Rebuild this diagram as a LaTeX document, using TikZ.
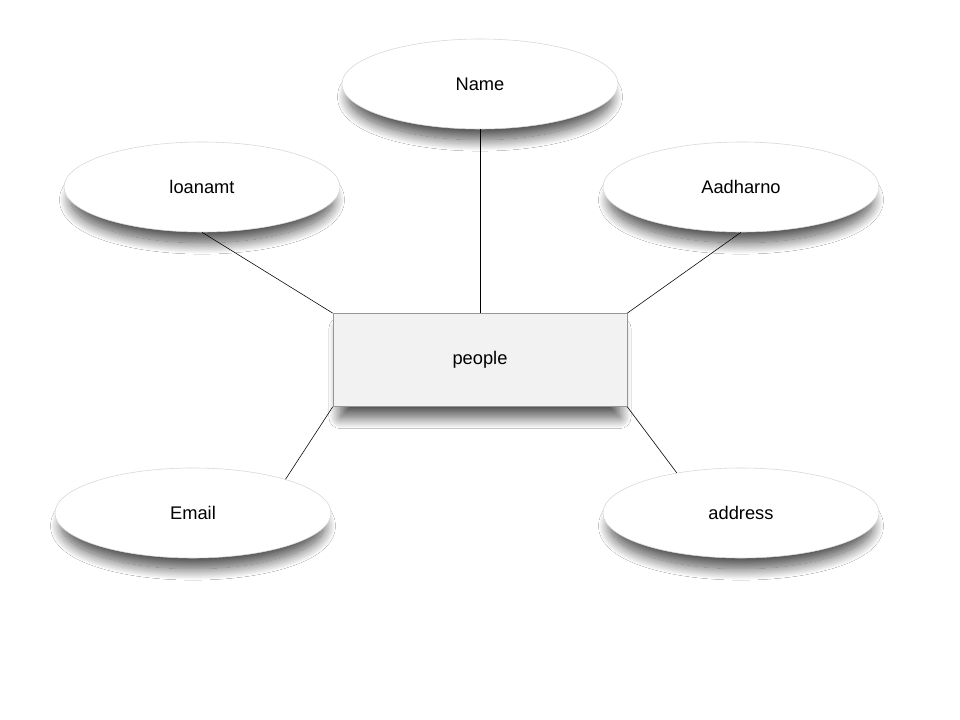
\documentclass[tikz,border=0pt]{standalone}
\usepackage{fontspec}
\setmainfont{Liberation Sans}
\usepackage{xcolor}
\definecolor{EdgeGray}{RGB}{215,215,215}
\definecolor{BoxGray}{RGB}{242,242,242}
\definecolor{BoxBorder}{RGB}{150,150,150}
\usetikzlibrary{shapes.geometric, positioning, shadows.blur}
\tikzset{
  % Common soft shadow
  softshadow/.style={
    blur shadow={shadow xshift=0pt, shadow yshift=-0.34cm,
      shadow scale=0.95, shadow blur radius=0.3cm,
      shadow blur steps=20, shadow opacity=70}
  },
  % Attribute ellipse
  attr/.style={
    ellipse, draw=EdgeGray, fill=white,
    minimum width=6.9cm, minimum height=2.25cm,
    font=\fontsize{13}{15}\selectfont, softshadow
  },
  % Entity box
  entity/.style={
    rectangle, draw=BoxBorder, fill=BoxGray,
    minimum width=7.35cm, minimum height=2.33cm,
    font=\fontsize{13}{15}\selectfont, softshadow
  },
  link/.style={thin, black},
}

\begin{document}
\begin{tikzpicture}[x=0.025cm, y=-0.025cm]
  \useasboundingbox[fill=white] (0,0) rectangle (960,720);

  %% Entity
  \node[entity] (people) at (480,360) {people};

  %% Attributes
  \node[attr] (name)     at (480,84)  {Name};
  \node[attr] (loanamt)  at (202,187) {loanamt};
  \node[attr] (aadharno) at (741,187) {Aadharno};
  \node[attr] (email)    at (193,513) {Email};
  \node[attr] (address)  at (741,513) {address};

  %% Links
  \draw[link] (loanamt.south) -- (people.north west);
  \draw[link] (name.south)    -- (people.north);
  \draw[link] (aadharno.south) -- (people.north east);
  \draw[link] (email.20)      -- (people.south west);
  \draw[link] (address.148)   -- (people.south east);

\end{tikzpicture}
\end{document}
